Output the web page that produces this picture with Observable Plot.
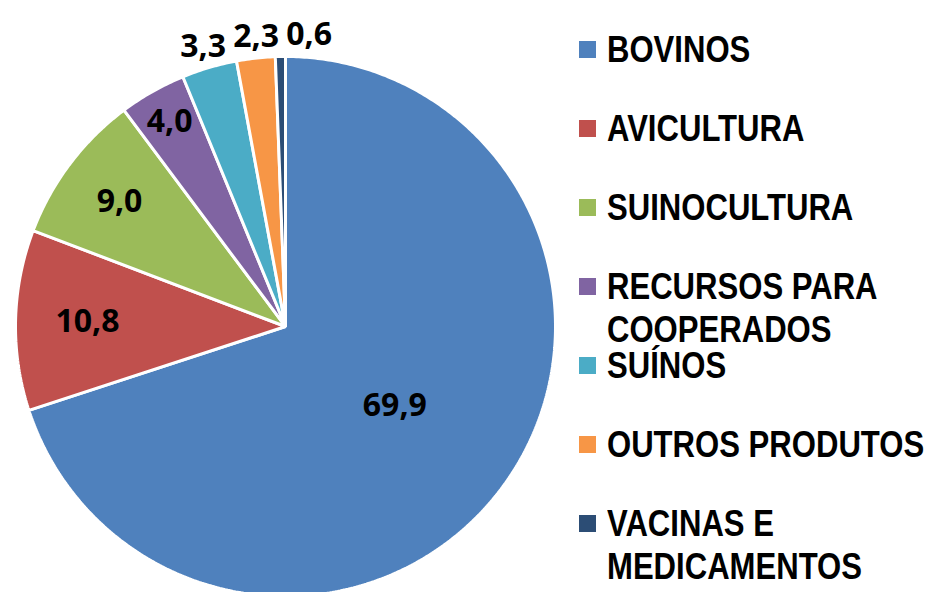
<!DOCTYPE html>
<html>
<head>
<meta charset="utf-8">
<script src="https://cdn.jsdelivr.net/npm/d3@7"></script>
<script src="https://cdn.jsdelivr.net/npm/@observablehq/plot@0.6"></script>
<style>
  html, body { margin: 0; padding: 0; background: #fff; }
  #wrap { position: relative; width: 927px; height: 592px; overflow: hidden; }
  #wrap svg { position: absolute; left: 0; top: 0; }
  #legend { position: absolute; left: 579px; top: 28px; font-family: "Liberation Sans", Arial, sans-serif; font-weight: bold; font-size: 37px; color: #000; }
  .item { height: 79px; display: flex; align-items: flex-start; }
  .sw { width: 17px; height: 17px; margin-top: 13px; margin-right: 11px; flex: none; }
  .lab { line-height: 43px; white-space: nowrap; transform: scaleX(0.84); transform-origin: 0 0; }
</style>
</head>
<body>
<div id="wrap"></div>
<script>
const categories = ["BOVINOS", "AVICULTURA", "SUINOCULTURA", "RECURSOS PARA COOPERADOS", "SUÍNOS", "OUTROS PRODUTOS", "VACINAS E MEDICAMENTOS"];
const legendLines = [["BOVINOS"], ["AVICULTURA"], ["SUINOCULTURA"], ["RECURSOS PARA", "COOPERADOS"], ["SUÍNOS"], ["OUTROS PRODUTOS"], ["VACINAS E", "MEDICAMENTOS"]];
const values = [69.9, 10.8, 9.0, 4.0, 3.3, 2.3, 0.6];
const valueLabels = ["69,9", "10,8", "9,0", "4,0", "3,3", "2,3", "0,6"];
const colors = ["#4F81BD", "#C0504D", "#9BBB59", "#8064A2", "#4BACC6", "#F79646", "#2C4D75"];

const W = 927, H = 592, cx = 285, cy = 326, R = 270;
const data = categories.map((c, i) => ({category: c, value: values[i], label: valueLabels[i], color: colors[i]}));
const total = d3.sum(values);
const arcs = d3.pie().sort(null).value(d => d.value)(data);

// slice polygons in unit-radius coordinates (y down)
const pts = [];
arcs.forEach(a => {
  const n = Math.max(4, Math.ceil((a.endAngle - a.startAngle) / 0.01));
  pts.push({cat: a.data.category, x: 0, y: 0});
  for (let k = 0; k <= n; k++) {
    const t = a.startAngle + (a.endAngle - a.startAngle) * k / n;
    pts.push({cat: a.data.category, x: Math.sin(t), y: -Math.cos(t)});
  }
});

// labels
const labels = arcs.map(a => {
  const frac = a.data.value / total;
  const mid = (a.startAngle + a.endAngle) / 2;
  let r, outside = false;
  if (frac > 0.5) r = 0.5;
  else if (frac >= 0.04) r = 0.95 - 2.0 * frac;
  else { r = 1.08; outside = true; }
  return {label: a.data.label, x: r * Math.sin(mid), y: -r * Math.cos(mid), outside};
});
// keep outside labels from overlapping
const minSep = 53 / R;
for (let i = 1; i < labels.length; i++) {
  if (labels[i].outside && labels[i - 1].outside && labels[i].x - labels[i - 1].x < minSep && Math.abs(labels[i].y - labels[i - 1].y) < 0.12) {
    labels[i].x = labels[i - 1].x + minSep;
  }
}

const chart = Plot.plot({
  width: W, height: H,
  margin: 0,
  x: {domain: [-cx / R, (W - cx) / R], range: [0, W], axis: null},
  y: {domain: [-cy / R, (H - cy) / R], range: [0, H], axis: null},
  color: {domain: categories, range: colors},
  marks: [
    Plot.line(pts, {x: "x", y: "y", z: "cat", fill: "cat", stroke: "white", strokeWidth: 3, strokeLinejoin: "miter", curve: "linear-closed"}),
    Plot.text(labels, {x: "x", y: "y", text: "label", fontFamily: "Open Sans", fontWeight: "bold", fontSize: 32, fill: "#000"})
  ]
});
const wrap = document.getElementById("wrap");
wrap.appendChild(chart);

const legend = document.createElement("div");
legend.id = "legend";
legendLines.forEach((lines, i) => {
  const it = document.createElement("div");
  it.className = "item";
  const sw = document.createElement("div");
  sw.className = "sw";
  sw.style.background = colors[i];
  const lab = document.createElement("div");
  lab.className = "lab";
  lab.innerHTML = lines.join("<br>");
  it.appendChild(sw); it.appendChild(lab);
  legend.appendChild(it);
});
wrap.appendChild(legend);
</script>
</body>
</html>
